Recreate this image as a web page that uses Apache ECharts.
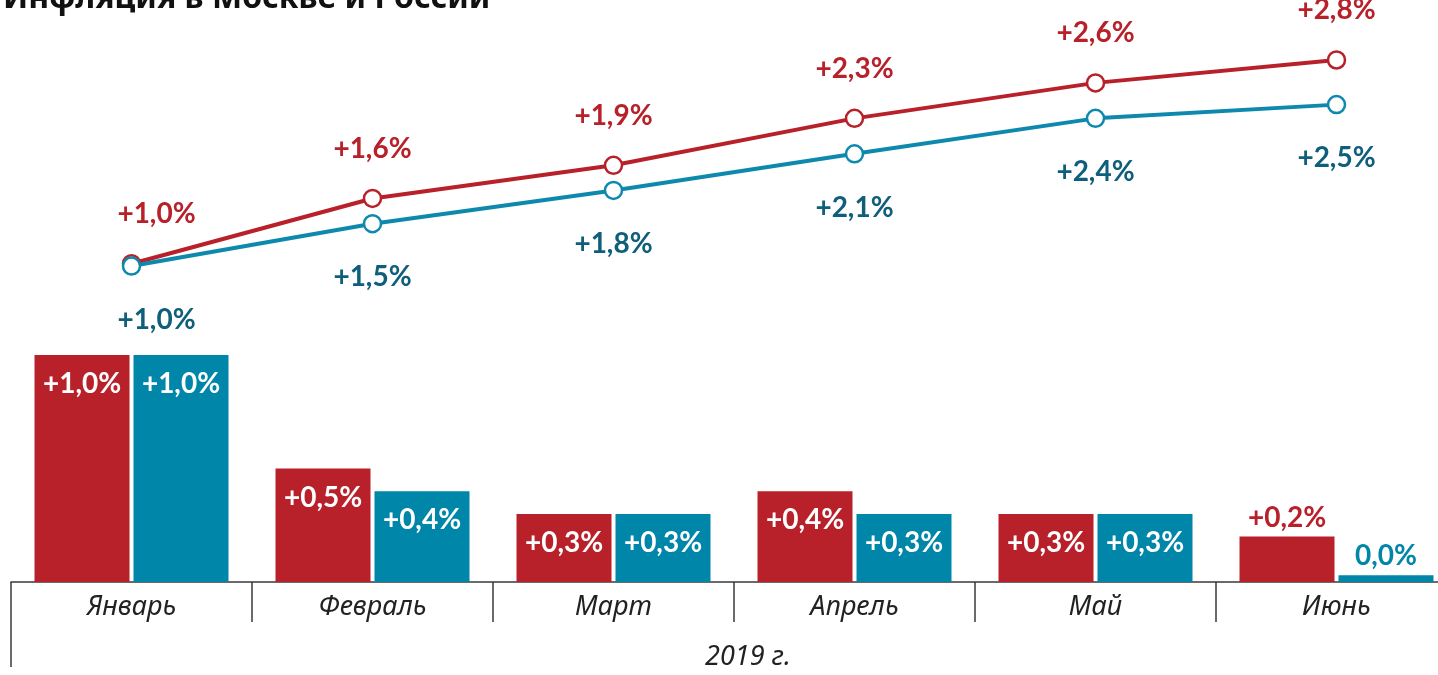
<!DOCTYPE html>
<html>
<head>
<meta charset="utf-8">
<script src="https://cdn.jsdelivr.net/npm/echarts@6/dist/echarts.min.js"></script>
<style>
  html, body { margin: 0; padding: 0; background: #fff; overflow: hidden; }
  /* the last category runs past the right edge of the picture */
  #chart { width: 1458px; height: 675px; }
</style>
</head>
<body>
<div id="chart"></div>
<script>
// months of 2019
const months = ["Январь", "Февраль", "Март", "Апрель", "Май", "Июнь"];
const yearLabel = ["2019 г."];

// monthly inflation (bars)
const moscowMonthly = [1.0, 0.5, 0.3, 0.4, 0.3, 0.2];
const russiaMonthly = [1.0, 0.4, 0.3, 0.3, 0.3, 0.03];
const moscowMonthlyLabels = ["+1,0%", "+0,5%", "+0,3%", "+0,4%", "+0,3%", "+0,2%"];
const russiaMonthlyLabels = ["+1,0%", "+0,4%", "+0,3%", "+0,3%", "+0,3%", "0,0%"];

// cumulative inflation (lines), as placed on the picture
const moscowTotal = [1.02, 1.59, 1.88, 2.29, 2.6, 2.8];
const russiaTotal = [1.0, 1.37, 1.66, 1.98, 2.29, 2.41];
const moscowTotalLabels = ["+1,0%", "+1,6%", "+1,9%", "+2,3%", "+2,6%", "+2,8%"];
const russiaTotalLabels = ["+1,0%", "+1,5%", "+1,8%", "+2,1%", "+2,4%", "+2,5%"];

const RED = "#b8202a";
const BLUE_BAR = "#0086a8";
const BLUE_LINE = "#0e89ae";
const BLUE_TEXT = "#0f5f7b";
const numFont = "Lato, 'Noto Sans', sans-serif";
const textFont = "'Noto Sans', sans-serif";

const chart = echarts.init(document.getElementById("chart"));

// small bars get their label on top, in the bar colour
function barData(values, labels, color) {
  return values.map((v, i) => {
    const small = v < 0.25;
    return {
      value: v,
      label: small
        ? {position: "top", distance: 5, color: color}
        : {position: "insideTop", distance: 15, color: "#fff"},
      _text: labels[i]
    };
  });
}

function lineData(values, labels) {
  return values.map((v, i) => ({
    value: v,
    _text: labels[i],
    label: i === 0 ? {offset: [25, 0]} : {}
  }));
}

const catAxis = (gridIndex, show) => ({
  type: "category",
  gridIndex: gridIndex,
  data: months,
  show: show,
  axisLine: {show: show, lineStyle: {color: "#3a3a3a", width: 1.5}},
  axisTick: {show: show, length: 40, lineStyle: {color: "#3a3a3a", width: 1.5}},
  axisLabel: {
    show: show,
    margin: 12,
    fontFamily: textFont,
    fontStyle: "italic",
    fontSize: 27,
    color: "#222"
  }
});

const numLabel = {
  show: true,
  fontFamily: numFont,
  fontWeight: "bold",
  fontSize: 28,
  formatter: (p) => p.data._text
};

const option = {
  animation: false,
  title: {
    text: "Инфляция в Москве и России",
    left: -2,
    top: -22,
    textStyle: {fontFamily: textFont, fontWeight: "bold", fontSize: 32, color: "#111"}
  },
  grid: [
    {left: 11, right: 1, top: 309.6, height: 272.4},
    {left: 11, right: 1, top: 30, height: 270}
  ],
  xAxis: [
    catAxis(0, true),
    catAxis(1, false),
    {
      type: "category",
      gridIndex: 0,
      data: yearLabel,
      position: "bottom",
      axisLine: {show: false},
      axisTick: {show: true, length: 85, lineStyle: {color: "#3a3a3a", width: 1.5}},
      axisLabel: {
        margin: 62,
        padding: [0, 0, 0, 28],
        fontFamily: textFont,
        fontStyle: "italic",
        fontSize: 27,
        color: "#222"
      }
    }
  ],
  yAxis: [
    {type: "value", gridIndex: 0, min: 0, max: 1.2, show: false},
    {type: "value", gridIndex: 1, min: 0.703, max: 3.062, show: false}
  ],
  series: [
    {
      type: "bar",
      xAxisIndex: 0,
      yAxisIndex: 0,
      data: barData(moscowMonthly, moscowMonthlyLabels, RED),
      barWidth: 95,
      barGap: "4.2%",
      itemStyle: {color: RED},
      label: numLabel
    },
    {
      type: "bar",
      xAxisIndex: 0,
      yAxisIndex: 0,
      data: barData(russiaMonthly, russiaMonthlyLabels, BLUE_BAR),
      barWidth: 95,
      barGap: "4.2%",
      itemStyle: {color: BLUE_BAR},
      label: numLabel
    },
    {
      type: "line",
      xAxisIndex: 1,
      yAxisIndex: 1,
      data: lineData(moscowTotal, moscowTotalLabels),
      clip: false,
      symbol: "circle",
      symbolSize: 17,
      lineStyle: {color: RED, width: 4},
      itemStyle: {color: "#fff", borderColor: RED, borderWidth: 2.5},
      label: Object.assign({}, numLabel, {position: "top", distance: 26, color: RED})
    },
    {
      type: "line",
      xAxisIndex: 1,
      yAxisIndex: 1,
      data: lineData(russiaTotal, russiaTotalLabels),
      clip: false,
      symbol: "circle",
      symbolSize: 17,
      lineStyle: {color: BLUE_LINE, width: 4},
      itemStyle: {color: "#fff", borderColor: BLUE_LINE, borderWidth: 2.5},
      label: Object.assign({}, numLabel, {position: "bottom", distance: 30, color: BLUE_TEXT})
    }
  ]
};

chart.setOption(option);
</script>
</body>
</html>
